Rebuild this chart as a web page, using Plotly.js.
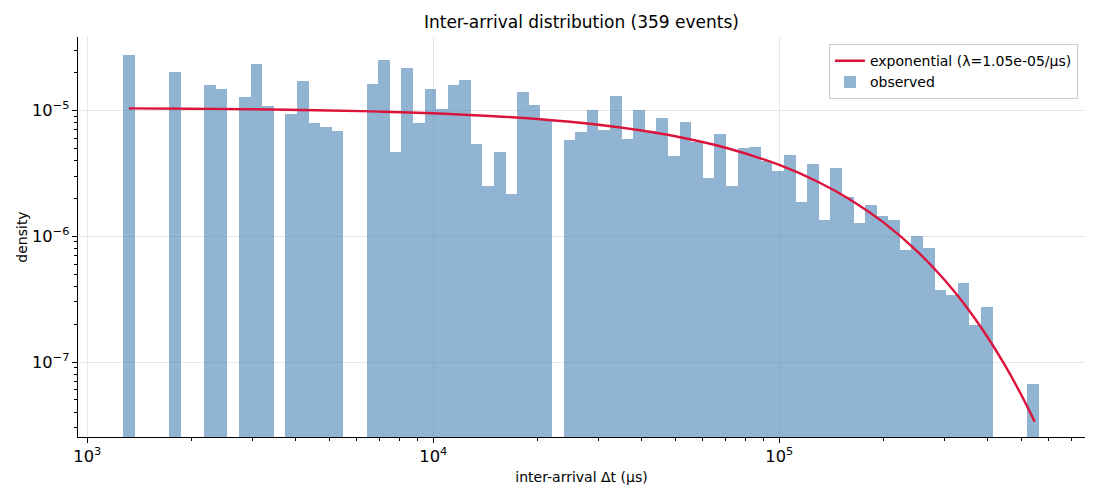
<!DOCTYPE html>
<html>
<head>
<meta charset="utf-8">
<script src="https://cdn.plot.ly/plotly-3.0.1.min.js"></script>
<style>
  html, body { margin: 0; padding: 0; background: #fff; }
  #chart { width: 1100px; height: 500px; }
</style>
</head>
<body>
<div id="chart"></div>
<script>
// histogram: 79 log-spaced bins between the smallest and largest gap (µs)
let binLo = 1268.5;
let binHi = 563200;
let nBins = 79;

// density per bin (null = empty bin)
let density = [
  2.74e-5, null, null, null, 2.01e-5, null, null, 1.595e-5, 1.477e-5, null,
  1.266e-5, 2.344e-5, 1.084e-5, null, 9.30e-6, 1.721e-5, 7.96e-6, 7.37e-6, 6.83e-6, null,
  null, 1.625e-5, 2.507e-5, 4.64e-6, 2.148e-5, 7.95e-6, 1.473e-5, 1.023e-5, 1.578e-5, 1.753e-5,
  5.41e-6, 2.50e-6, 4.64e-6, 2.15e-6, 1.390e-5, 1.103e-5, 8.51e-6, null, 5.84e-6, 6.75e-6,
  1.000e-5, 6.95e-6, 1.286e-5, 5.95e-6, 1.010e-5, 6.80e-6, 8.66e-6, 4.37e-6, 8.09e-6, 5.62e-6,
  2.89e-6, 6.42e-6, 2.48e-6, 5.04e-6, 5.09e-6, 3.93e-6, 3.27e-6, 4.38e-6, 1.87e-6, 3.75e-6,
  1.336e-6, 3.46e-6, 2.06e-6, 1.272e-6, 1.766e-6, 1.453e-6, 1.345e-6, 7.78e-7, 1.009e-6, 8.00e-7,
  3.71e-7, 3.43e-7, 4.23e-7, 1.96e-7, 2.72e-7, null, null, null, 6.66e-8
];

// fitted exponential, sampled along the curve
let fitX = [1318, 2000, 3000, 5000, 7000, 10000, 15000, 20000, 30000, 40000, 50000,
            70000, 100000, 130000, 160000, 200000, 250000, 300000, 350000, 400000,
            450000, 500000, 547000];
let fitY = [1.0356e-5, 1.0282e-5, 1.0174e-5, 9.963e-6, 9.756e-6, 9.453e-6, 8.970e-6,
            8.511e-6, 7.663e-6, 6.899e-6, 6.211e-6, 5.035e-6, 3.674e-6, 2.681e-6,
            1.957e-6, 1.286e-6, 7.606e-7, 4.499e-7, 2.662e-7, 1.575e-7, 9.314e-8,
            5.510e-8, 3.364e-8];

let edges = [];
for (let i = 0; i <= nBins; i++) {
    edges.push(binLo * Math.pow(binHi / binLo, i / nBins));
}
let left = edges.slice(0, nBins);
let widths = left.map((e, i) => edges[i + 1] - e);

let font = 'DejaVu Sans, Liberation Sans, sans-serif';

let traceFit = {
    x: fitX, y: fitY, type: 'scatter', mode: 'lines',
    line: {color: 'crimson', width: 2.4, shape: 'spline'},
    name: 'exponential (λ=1.05e-05/μs)'
};
let traceHist = {
    x: left, y: density, type: 'bar',
    width: widths, offset: 0,
    marker: {color: 'rgba(70,130,180,0.6)', line: {width: 0}},
    name: 'observed'
};

let axisCommon = {
    type: 'log',
    showline: true, linecolor: 'black', linewidth: 1,
    ticks: 'outside', ticklen: 5, tickwidth: 1, tickcolor: 'black',
    dtick: 1, exponentformat: 'power',
    showgrid: true, gridcolor: '#e6e6e6', gridwidth: 1,
    zeroline: false,
    tickfont: {family: font, size: 13, color: 'black'},
    minor: {ticks: 'outside', ticklen: 3, tickwidth: 1, tickcolor: 'black', dtick: 'D1', showgrid: false}
};

let layout = {
    width: 1100, height: 500,
    margin: {l: 78, r: 15, t: 37, b: 63},
    paper_bgcolor: 'white', plot_bgcolor: 'white',
    font: {family: font, color: 'black'},
    title: {
        text: 'Inter-arrival distribution (359 events)',
        font: {family: font, size: 17, color: 'black'},
        x: 0.5286, xanchor: 'center', y: 0.956, yanchor: 'middle'
    },
    xaxis: Object.assign({}, axisCommon, {
        range: [2.9731, 5.8835],
        title: {text: 'inter-arrival Δt (μs)', font: {family: font, size: 14}, standoff: 7}
    }),
    yaxis: Object.assign({}, axisCommon, {
        range: [-7.5952, -4.4183],
        title: {text: 'density', font: {family: font, size: 14}, standoff: 1}
    }),
    showlegend: true,
    legend: {
        x: 0.993, xanchor: 'right', y: 0.982, yanchor: 'top',
        bgcolor: 'rgba(255,255,255,0.8)', bordercolor: '#cccccc', borderwidth: 1,
        font: {family: font, size: 14, color: 'black'},
        tracegroupgap: 0
    },
    bargap: 0
};

Plotly.newPlot('chart', [traceFit, traceHist], layout, {displayModeBar: false, staticPlot: true});
</script>
</body>
</html>
